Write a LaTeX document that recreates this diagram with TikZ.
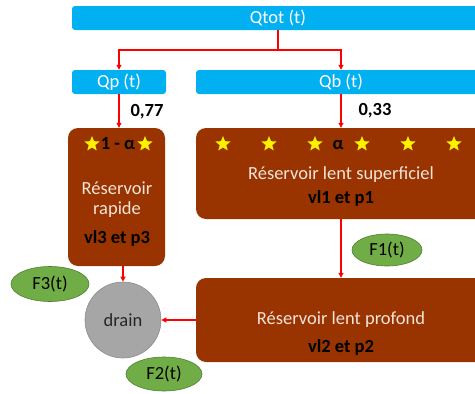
\documentclass[tikz,border=0pt]{standalone}
\usepackage{fontspec}
\setmainfont{Carlito}
\usetikzlibrary{arrows.meta,shapes.geometric}
\definecolor{qblue}{HTML}{00B0F0}
\definecolor{resbrown}{HTML}{993300}
\definecolor{lighttxt}{HTML}{F2E4DA}
\definecolor{fgreen}{HTML}{70AD47}
\definecolor{fgreenb}{HTML}{507E32}
\definecolor{draingray}{HTML}{A6A6A6}
\definecolor{draingrayb}{HTML}{8C8C8C}
\definecolor{arrred}{HTML}{FF0000}
\begin{document}
\begin{tikzpicture}[x=1pt,y=-1pt,
  every node/.style={font=\fontsize{18.5}{20}\selectfont, inner sep=0pt},
  qbox/.style={fill=qblue, text=white, rounded corners=3pt},
  resbox/.style={fill=resbrown, rounded corners=10pt},
  restxt/.style={text=lighttxt},
  resbold/.style={text=black, font=\fontsize{18.5}{20}\selectfont\bfseries},
  coef/.style={text=black, font=\fontsize{18.5}{20}\selectfont\bfseries},
  yellowstar/.style={star, star points=5, star point ratio=2.3, minimum size=16pt, fill=yellow, draw=none},
  fellipse/.style={ellipse, fill=fgreen, draw=fgreenb, line width=0.6pt, text=black},
  arr/.style={draw=arrred, line width=1.1pt, -{Triangle[length=5pt,width=5pt]}}
]
\useasboundingbox (0,0) rectangle (475,394);
% blue boxes
\node[qbox, minimum width=412pt, minimum height=24pt] (qtot) at (278,18) {Qtot (t)};
\node[qbox, minimum width=94pt, minimum height=24pt] (qp) at (119,82) {Qp (t)};
\node[qbox, minimum width=290pt, minimum height=24pt] (qb) at (341,82) {Qb (t)};
% reservoirs
\node[resbox, minimum width=97pt, minimum height=138pt] (rapide) at (116.5,197) {};
\node[resbox, minimum width=290pt, minimum height=91pt] (superf) at (341,173.5) {};
\node[resbox, minimum width=290pt, minimum height=84pt] (profond) at (341,320) {};
% rapide texts
\node[yellowstar] (sr1) at (92,144) {};
\node[resbold] (unmoinsalpha) at (118,144) {1 - α};
\node[yellowstar] (sr2) at (145,144) {};
\node[restxt] (rapide1) at (117,188) {Réservoir};
\node[restxt] (rapide2) at (117,210) {rapide};
\node[resbold] (rapide3) at (117,238) {vl3 et p3};
% superficiel texts
\node[yellowstar] (ss1) at (223,144) {};
\node[yellowstar] (ss2) at (269,144) {};
\node[yellowstar] (ss3) at (315,144) {};
\node[resbold] (alpha) at (338,145) {α};
\node[yellowstar] (ss4) at (362,144) {};
\node[yellowstar] (ss5) at (408,144) {};
\node[yellowstar] (ss6) at (454,144) {};
\node[restxt] (superf1) at (341,175) {Réservoir lent superficiel};
\node[resbold] (superf2) at (341,198) {vl1 et p1};
% profond texts
\node[restxt] (profond1) at (341,320) {Réservoir lent profond};
\node[resbold] (profond2) at (341,347) {vl2 et p2};
% drain
\node[circle, fill=draingray, draw=draingrayb, line width=0.6pt, minimum size=76pt, text=black!85] (drain) at (123,320) {drain};
% flux ellipses
\node[fellipse, minimum width=70pt, minimum height=32pt] (f1) at (387,250) {F1(t)};
\node[fellipse, minimum width=78pt, minimum height=35pt] (f3) at (50,284) {F3(t)};
\node[fellipse, minimum width=76pt, minimum height=34pt] (f2) at (164,374) {F2(t)};
% coefficients
\node[coef] (c77) at (147,112) {0,77};
\node[coef] (c33) at (375,111) {0,33};
% connectors
\coordinate (split) at (278,50);
\draw[arr] (qtot.south) -- (split) -| (qp.north);
\draw[arr] (qtot.south) -- (split) -| (qb.north);
\draw[arr] (qp.south) -- (qp.south |- rapide.north);
\draw[arr] (qb.south) -- (superf.north);
\draw[arr] (superf.south) -- (profond.north);
\draw[arr] (drain.north |- rapide.south) -- (drain.north);
\draw[arr] (profond.west) -- (drain.east);
\end{tikzpicture}
\end{document}
